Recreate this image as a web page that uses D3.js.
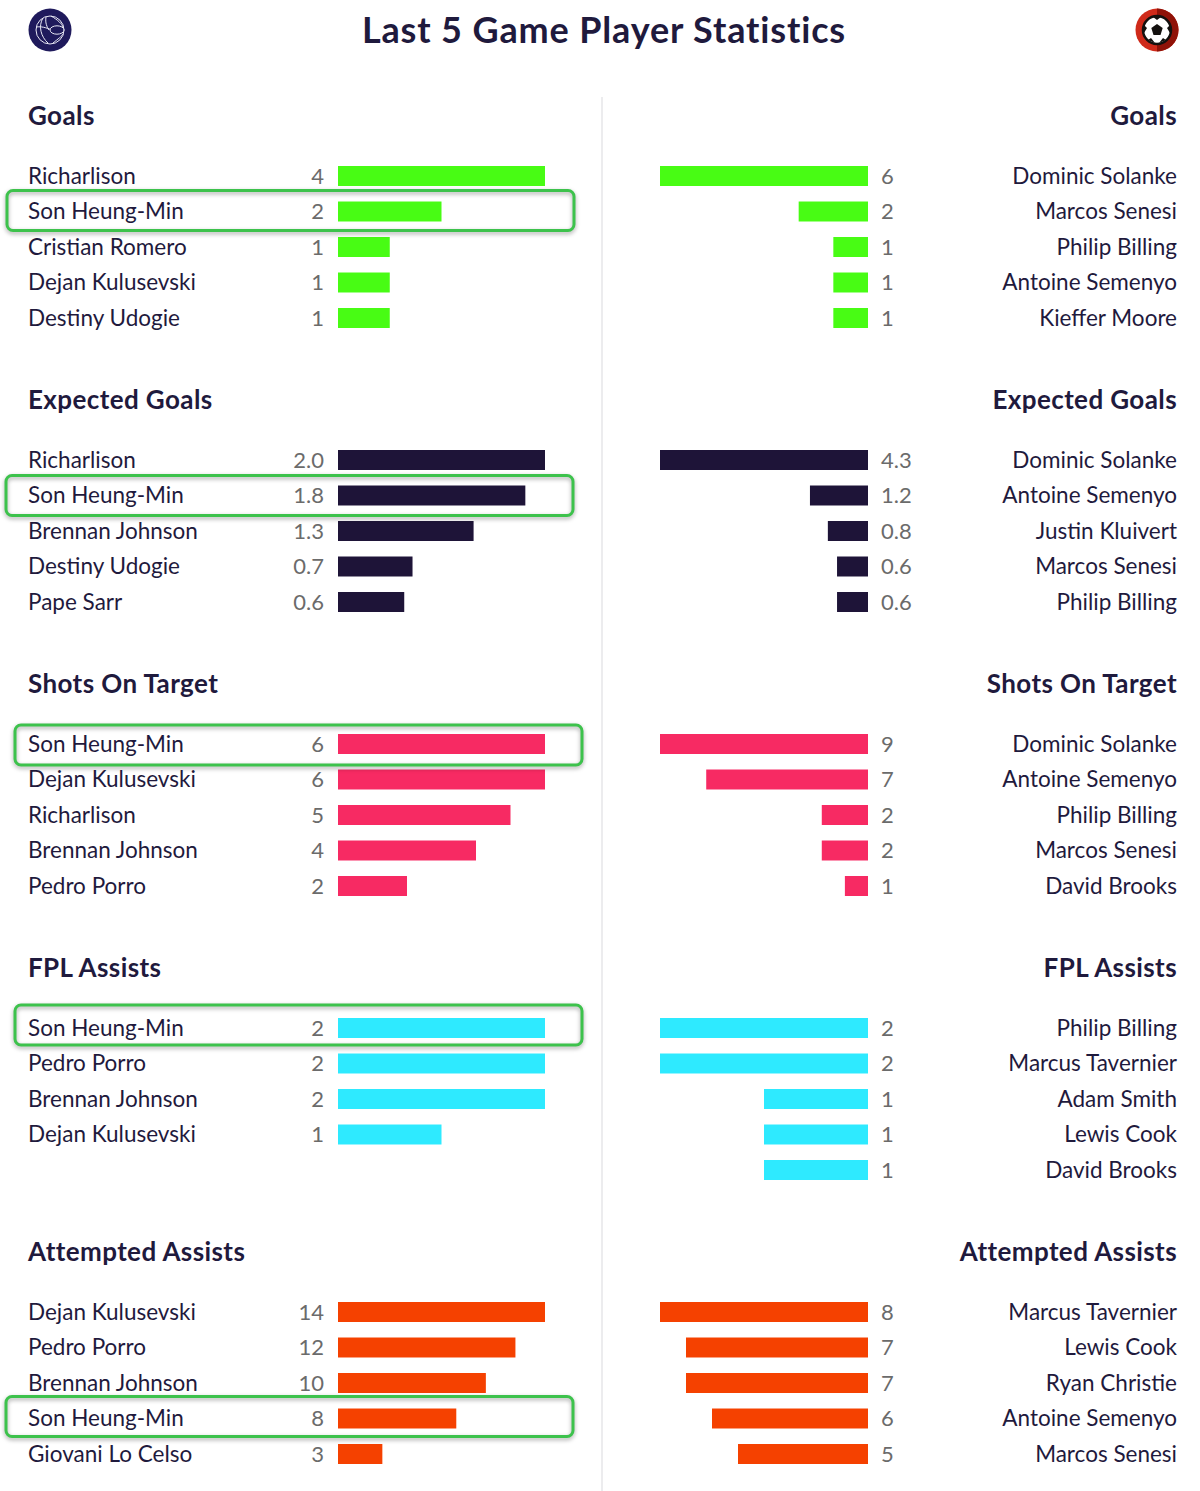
<!DOCTYPE html>
<html lang="en">
<head>
<meta charset="UTF-8">
<title>Last 5 Game Player Statistics</title>
<script src="https://d3js.org/d3.v7.min.js"></script>
<style>
body { margin: 0; background: #fff; }
svg { display: block; }
text { font-family: Lato, sans-serif; fill: #1f1a3d; }
.title { font-size: 36px; font-weight: 700; letter-spacing: 0.85px; }
.heading { font-size: 26px; font-weight: 700; letter-spacing: 0.4px; }
.name { font-size: 22.5px; }
.value { font-size: 22px; fill: #6b6b6b; }
.highlight { fill: none; stroke: #3dc24c; stroke-width: 3px; filter: drop-shadow(0 2px 2px rgba(0,0,0,.35)); }
</style>
</head>
<body>
<svg id="chart" width="1200" height="1491"></svg>
<script>
var sections = ["Goals", "Expected Goals", "Shots On Target", "FPL Assists", "Attempted Assists"];
var colors = ["#48fc14", "#1e1438", "#f72a63", "#2eeaff", "#f54100"];
var formats = ["d", ".1f", "d", "d", "d"];

var leftNames = [
  ["Richarlison", "Son Heung-Min", "Cristian Romero", "Dejan Kulusevski", "Destiny Udogie"],
  ["Richarlison", "Son Heung-Min", "Brennan Johnson", "Destiny Udogie", "Pape Sarr"],
  ["Son Heung-Min", "Dejan Kulusevski", "Richarlison", "Brennan Johnson", "Pedro Porro"],
  ["Son Heung-Min", "Pedro Porro", "Brennan Johnson", "Dejan Kulusevski"],
  ["Dejan Kulusevski", "Pedro Porro", "Brennan Johnson", "Son Heung-Min", "Giovani Lo Celso"]
];
var leftValues = [
  [4, 2, 1, 1, 1],
  [2.0, 1.81, 1.31, 0.72, 0.64],
  [6, 6, 5, 4, 2],
  [2, 2, 2, 1],
  [14, 12, 10, 8, 3]
];
var rightNames = [
  ["Dominic Solanke", "Marcos Senesi", "Philip Billing", "Antoine Semenyo", "Kieffer Moore"],
  ["Dominic Solanke", "Antoine Semenyo", "Justin Kluivert", "Marcos Senesi", "Philip Billing"],
  ["Dominic Solanke", "Antoine Semenyo", "Philip Billing", "Marcos Senesi", "David Brooks"],
  ["Philip Billing", "Marcus Tavernier", "Adam Smith", "Lewis Cook", "David Brooks"],
  ["Marcus Tavernier", "Lewis Cook", "Ryan Christie", "Antoine Semenyo", "Marcos Senesi"]
];
var rightValues = [
  [6, 2, 1, 1, 1],
  [4.3, 1.2, 0.83, 0.64, 0.64],
  [9, 7, 2, 2, 1],
  [2, 2, 1, 1, 1],
  [8, 7, 7, 6, 5]
];
var highlightName = "Son Heung-Min";

// hand drawn boxes in the original don't line up, so each has its own left edge
var boxLeft = [7, 6, 15, 15, 6];
var boxDy = [-1, 0, 1, -3, -2];
var boxWidth = 567;

var svg = d3.select("#chart");

var sectionY = d3.scaleLinear().domain([0, 4]).range([115, 1251]);
var rowY = d3.scaleBand().domain(d3.range(5)).range([43.25, 220.75]).paddingInner(0.437).paddingOuter(0.2185);

// divider
svg.append("line").attr("x1", 602).attr("x2", 602).attr("y1", 97).attr("y2", 1491)
  .attr("stroke", "#ececee").attr("stroke-width", 2);

svg.append("text").attr("class", "title").attr("x", 604).attr("y", 43)
  .attr("text-anchor", "middle").text("Last 5 Game Player Statistics");

// team badges
var badgeL = svg.append("g").attr("transform", "translate(50,30)");
badgeL.append("circle").attr("r", 21.5).attr("fill", "#1f1a5c");
var ball = badgeL.append("g").attr("fill", "none").attr("stroke", "#e8e8f4").attr("stroke-width", 1);
ball.append("circle").attr("r", 14);
ball.append("path").attr("d", "M-14,-3 C-6,-4 -2,-1 3,0 M-7,-12 C-12,-4 -9,7 -2,13 M1,-14 C8,-10 12,-6 13,-3 M-4,-13 C-5,-7 -3,-3 -1,0 M3,13 C8,9 12,6 13,4");
badgeL.append("ellipse").attr("cx", 7).attr("cy", 0).attr("rx", 7).attr("ry", 4.2)
  .attr("fill", "#1f1a5c").attr("stroke", "#e8e8f4").attr("stroke-width", 1);

var badgeR = svg.append("g").attr("transform", "translate(1157,30)");
badgeR.append("circle").attr("r", 21.5).attr("fill", "#cf2a1a");
badgeR.append("path").attr("d", "M0,-21.5 A21.5,21.5 0 0 1 0,21.5 Z").attr("fill", "#8f1208");
badgeR.append("circle").attr("r", 14).attr("fill", "#fff").attr("stroke", "#14110f").attr("stroke-width", 2.5);
badgeR.append("path").attr("d", "M0,-6 L5.7,-1.9 L3.5,4.9 L-3.5,4.9 L-5.7,-1.9 Z").attr("fill", "#14110f");
badgeR.append("path").attr("d", "M-4,-13 L4,-13 L0,-10 Z M13,-5 L13,3 L10,-2 Z M-13,-5 L-13,3 L-10,-2 Z M9,10 L2,13 L6,8 Z M-9,10 L-2,13 L-6,8 Z")
  .attr("fill", "#14110f");

sections.forEach(function(title, i) {
  var g = svg.append("g").attr("transform", "translate(0," + sectionY(i) + ")");
  var fmt = d3.format(formats[i]);

  g.append("text").attr("class", "heading").attr("x", 28).attr("y", 9.5).text(title);
  g.append("text").attr("class", "heading").attr("x", 1177).attr("y", 9.5)
    .attr("text-anchor", "end").text(title);

  // left team, bars grow rightwards
  var xL = d3.scaleLinear().domain([0, d3.max(leftValues[i])]).range([0, 207]);
  var left = g.selectAll(".left").data(leftValues[i]).enter().append("g")
    .attr("class", "left")
    .attr("transform", function(d, j) { return "translate(0," + rowY(j) + ")"; });
  left.append("rect").attr("x", 338).attr("y", 0)
    .attr("width", function(d) { return xL(d); })
    .attr("height", rowY.bandwidth()).attr("fill", colors[i]);
  left.append("text").attr("class", "value").attr("x", 324).attr("y", 17.6)
    .attr("text-anchor", "end").text(function(d) { return fmt(d); });
  left.append("text").attr("class", "name").attr("x", 28).attr("y", 17.6)
    .text(function(d, j) { return leftNames[i][j]; });

  // right team, bars grow leftwards
  var xR = d3.scaleLinear().domain([0, d3.max(rightValues[i])]).range([0, 208]);
  var right = g.selectAll(".right").data(rightValues[i]).enter().append("g")
    .attr("class", "right")
    .attr("transform", function(d, j) { return "translate(0," + rowY(j) + ")"; });
  right.append("rect").attr("x", function(d) { return 868 - xR(d); }).attr("y", 0)
    .attr("width", function(d) { return xR(d); })
    .attr("height", rowY.bandwidth()).attr("fill", colors[i]);
  right.append("text").attr("class", "value").attr("x", 881).attr("y", 17.6)
    .text(function(d) { return fmt(d); });
  right.append("text").attr("class", "name").attr("x", 1177).attr("y", 17.6)
    .attr("text-anchor", "end").text(function(d, j) { return rightNames[i][j]; });

  // highlight box around the player
  var hi = leftNames[i].indexOf(highlightName);
  g.append("rect").attr("class", "highlight")
    .attr("x", boxLeft[i]).attr("y", rowY(hi) + rowY.bandwidth() / 2 - 20 + boxDy[i])
    .attr("width", boxWidth).attr("height", 40).attr("rx", 6);
});
</script>
</body>
</html>
